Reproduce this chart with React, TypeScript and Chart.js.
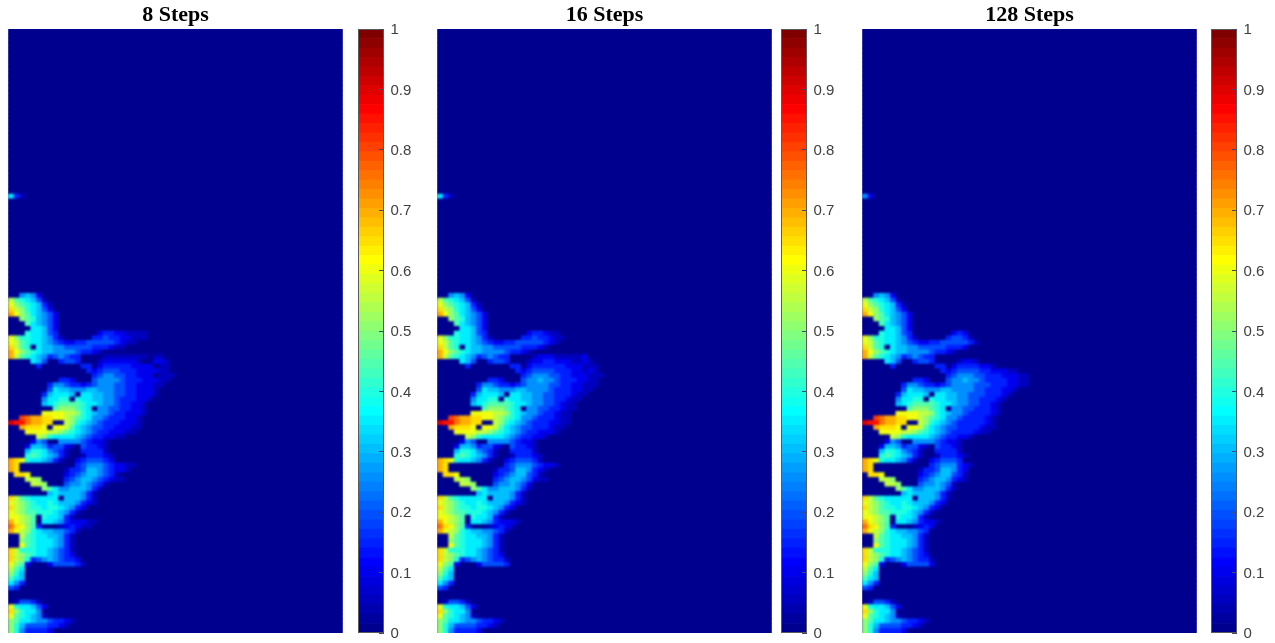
import React, { useEffect, useRef } from "react";
import { Chart, registerables } from "chart.js";

Chart.register(...registerables);

// Each cell is one character of this scale: its position / 20 is the value.
const levelScale = "0123456789abcdefghij";
const colCount = 60;
const rowCount = 128;
const firstBlobRow = 55;
const streakRow = 35;
const colorbarTicks = [0, 0.1, 0.2, 0.3, 0.4, 0.5, 0.6, 0.7, 0.8, 0.9, 1];
const titles = ["8 Steps", "16 Steps", "128 Steps"];
const streaks = ["731", "731", "52"];

// Columns 0-11, rows 55-127, much the same in all three panels.
const leftRows = [
  "", "005652", "b987641", "ca987631", "dba87642", "eca976542", "00a986542", "000976542", "000077642", "000877643",
  "ca88776531", "cb9877654322", "db9807665544", "eca987665555", "eb9876534543", "000076400344", "000003", "", "", "000000000332",
  "000000035543", "000000047665", "000000367776", "000000577880", "000000678999", "000000009aaa", "000000ccccbb", "00gfeeddccba", "ihhfeedd00ba", "00edddc0ccb9",
  "000ccccbba98", "00000ba87777", "000025400555", "000266534421", "00068875431", "00089876531", "edc8776531", "ed00000000001", "ed0000000013", "0ddc00000023",
  "000bba000034", "0000bba00045", "000000a97556", "000000067666", "db9877777066", "cba987787666", "dba988788765", "cba998887653", "ccba90877631", "ecba90776532",
  "fdca93000123", "ecba87665543", "00b987766531", "00a987776531", "00c987776531", "db8887765431", "dba987765432", "dba834565433", "ca9200024444", "b97",
  "a86", "976", "753", "43", "", "", "014431", "c877642", "da8775", "c987651",
  "a97765543321", "a8644443321", "a8533332",
];

// Columns 12-29, rows 55-127, for each panel.
const rightRows8 = [
  "", "", "", "", "", "", "", "", "", "0000233221111",
  "0003343322111", "33444443211", "444333211", "43321", "3000011111111011", "30001222222100221", "03302333332222011", "00323444333222211", "000345544332220111", "00045555433322211",
  "3234555443322211", "556655544332221", "077665544332221", "87766554333221", "9877655433221", "9870554433221", "a876554332221", "987554333221", "876543332221", "765443322211",
  "76543322211", "654332211", "543221", "043321", "033331", "0133321", "2344432", "34555432211", "3466543221", "45665431",
  "566543211", "565431", "66531", "6531", "6531", "5321", "32", "1", "", "2211",
  "211", "1", "", "", "", "", "", "2", "31", "",
  "", "", "", "", "", "", "", "", "", "",
  "", "", "",
];
const rightRows16 = [
  "", "", "", "", "", "", "", "", "", "0000233211",
  "00033433211", "3344444321", "44433321", "43321", "300001222111112", "3000122332221121", "03302333333222111", "00323444433322121", "000345554433222111", "00045565543332211",
  "32345555443322111", "5566555543332211", "077665544333211", "87766554433211", "9877655443211", "9870554433211", "a87655433211", "987554333211", "876543332211", "76544333211",
  "7654332221", "65433221", "543221", "043321", "033331", "0133321", "2344431", "3455543221", "34665321", "4566431",
  "56654211", "56542", "66531", "6531", "6531", "5321", "32", "1", "", "221",
  "21", "1", "", "", "", "", "", "1", "3", "",
  "", "", "", "", "", "", "", "", "", "",
  "", "", "",
];
const rightRows128 = [
  "", "", "", "", "", "", "", "", "", "0000232",
  "00034431", "334444431", "4443332", "43321", "3", "300001221", "033023333221", "0032344443322211", "000345554433322211", "000455655433332211",
  "323455554443332211", "5566555544333221", "077665544433321", "87766554433321", "9877655443321", "9870554433321", "a876554333321", "987554333321", "876543333321", "765443333211",
  "76543333211", "65433221", "543221", "043321", "033331", "0133321", "234443", "34555321", "3466532", "4566431",
  "5665321", "56541", "66531", "6531", "6531", "532", "32", "1", "", "21",
  "2", "", "", "", "", "", "", "1", "2", "",
  "", "", "", "", "", "", "", "", "", "",
  "", "", "",
];
const rightRowSets = [rightRows8, rightRows16, rightRows128];

function jet(v: number): string {
  const level = Math.min(64, Math.floor(v * 64) + 1) / 64;
  const ch = (c: number) => Math.round(255 * Math.max(0, Math.min(1, 1.5 - Math.abs(4 * level - c))));
  return `rgb(${ch(3)},${ch(2)},${ch(1)})`;
}

function panelValues(panel: number): number[][] {
  const grid: number[][] = [];
  for (let r = 0; r < rowCount; r++) {
    const row = new Array(colCount).fill(0);
    const read = (text: string, start: number) => {
      for (let i = 0; i < text.length; i++) row[start + i] = levelScale.indexOf(text[i]) / 20;
    };
    if (r === streakRow) read(streaks[panel], 0);
    if (r >= firstBlobRow) {
      read(leftRows[r - firstBlobRow].slice(0, 12), 0);
      read(rightRowSets[panel][r - firstBlobRow] || "", 12);
    }
    grid.push(row);
  }
  return grid;
}

const panelLayouts = [
  { left: 8, width: 335, colorbarLeft: 358 },
  { left: 437, width: 335, colorbarLeft: 781 },
  { left: 862, width: 335, colorbarLeft: 1211 },
];

const frame = {
  id: "frame",
  afterDatasetsDraw(chart: Chart) {
    const { ctx, chartArea: a } = chart;
    ctx.save();
    ctx.strokeStyle = "#5a5a5a";
    ctx.lineWidth = 1;
    ctx.strokeRect(a.left + 0.5, a.top + 0.5, a.right - a.left - 1, a.bottom - a.top - 1);
    ctx.restore();
  },
};

// A navy ground under the cells, and the soft look of the resampled image over them.
const heatFinish = {
  id: "heatFinish",
  beforeDatasetsDraw(chart: Chart) {
    const { ctx, chartArea: a } = chart;
    ctx.save();
    ctx.fillStyle = jet(0);
    ctx.fillRect(a.left, a.top, a.right - a.left, a.bottom - a.top);
    ctx.restore();
  },
  afterDatasetsDraw(chart: Chart) {
    const { ctx, chartArea: a } = chart;
    ctx.save();
    ctx.beginPath();
    ctx.rect(a.left, a.top, a.right - a.left, a.bottom - a.top);
    ctx.clip();
    (ctx as any).filter = "blur(0.8px)";
    ctx.drawImage(ctx.canvas, 0, 0);
    ctx.restore();
  },
};

export default function App() {
  const host = useRef<HTMLDivElement>(null);
  useEffect(() => {
    const charts: Chart[] = [];
    const canvases: HTMLCanvasElement[] = [];
    const add = (left: number, width: number) => {
      const c = document.createElement("canvas");
      c.width = width;
      c.height = 643;
      c.style.cssText = `position:absolute;left:${left}px;top:0;width:${width}px;height:643px;display:block;filter:blur(0.35px)`;
      host.current!.appendChild(c);
      canvases.push(c);
      return c;
    };
    titles.forEach((title, panel) => {
      const grid = panelValues(panel);
      const cells: any[] = [];
      const colors: string[] = [];
      grid.forEach((row, r) =>
        row.forEach((v, c) => {
          cells.push({ x: c + 0.5, y: [r, r + 1] });
          colors.push(jet(v));
        })
      );
      const p = panelLayouts[panel];
      charts.push(
        new Chart(add(p.left, p.width), {
          type: "bar",
          data: {
            datasets: [
              { data: cells, backgroundColor: colors, borderWidth: 0, categoryPercentage: 1, barPercentage: 1 },
            ],
          },
          options: {
            animation: false,
            responsive: false,
            events: [],
            layout: { padding: { left: 0.5, right: 0.5, top: 0, bottom: 10 } },
            plugins: {
              legend: { display: false },
              tooltip: { enabled: false },
              title: {
                display: true,
                text: title,
                color: "#000",
                font: { family: "'Liberation Serif'", size: 22, weight: "bold", lineHeight: 1.2 },
                padding: { top: 2.6, bottom: 0 },
              },
            },
            scales: {
              x: { type: "linear", min: 0, max: colCount, display: false, offset: false },
              y: { type: "linear", min: 0, max: rowCount, reverse: true, display: false },
            },
          },
          plugins: [heatFinish],
        } as any)
      );
      const barLevels = Array.from({ length: 64 }, (_, i) => i);
      charts.push(
        new Chart(add(p.colorbarLeft, 70), {
          type: "bar",
          data: {
            labels: [""],
            datasets: barLevels.map((i) => ({
              data: [[i / 64, (i + 1) / 64]],
              backgroundColor: jet((i + 0.5) / 64),
              borderWidth: 0,
              categoryPercentage: 1,
              barPercentage: 1,
              grouped: false,
            })),
          },
          options: {
            animation: false,
            responsive: false,
            events: [],
            layout: { padding: { left: 0, right: 0, top: 29, bottom: 10 } },
            plugins: { legend: { display: false }, tooltip: { enabled: false } },
            scales: {
              x: { display: false },
              y: {
                position: "right",
                min: 0,
                max: 1,
                afterFit: (s: any) => {
                  s.width = 44;
                  s.paddingTop = 0;
                  s.paddingBottom = 0;
                },
                afterBuildTicks: (s: any) => {
                  s.ticks = colorbarTicks.map((value) => ({ value }));
                },
                border: { display: false },
                grid: { drawOnChartArea: false, tickLength: -5, tickColor: "#404a70", tickWidth: 1, z: 1 },
                ticks: {
                  color: "#404040",
                  padding: 11.5,
                  labelOffset: 1,
                  font: { family: "'Liberation Sans'", size: 15 },
                  callback: (v: any) => String(v),
                },
              },
            },
          },
          plugins: [frame],
        } as any)
      );
    });
    return () => {
      charts.forEach((c) => c.destroy());
      canvases.forEach((c) => c.remove());
    };
  }, []);
  return <div ref={host} style={{ position: "absolute", left: 0, top: 0, width: 1275, height: 643, background: "#fff" }} />;
}
